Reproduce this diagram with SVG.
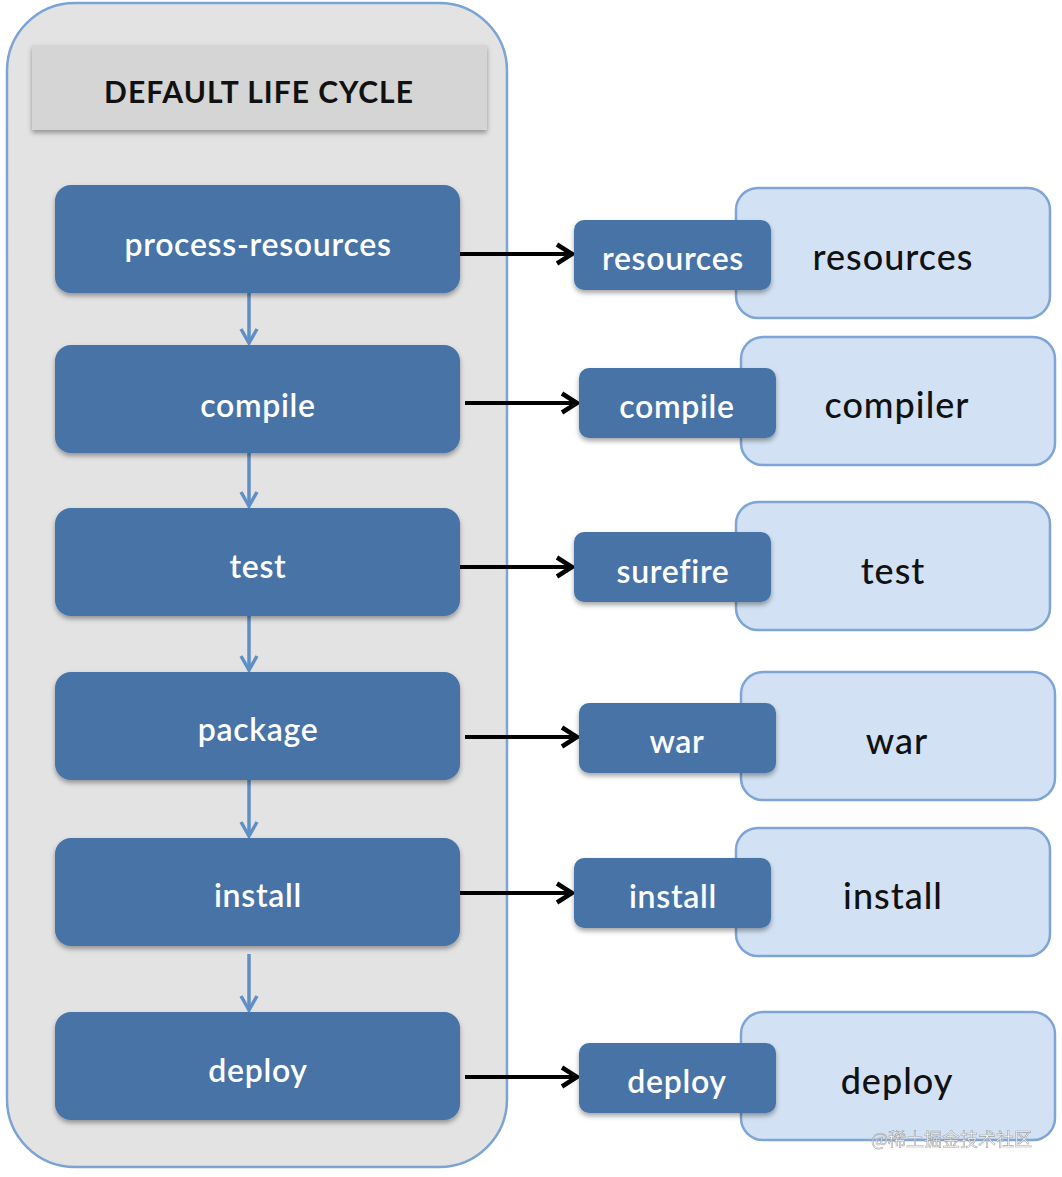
<svg xmlns="http://www.w3.org/2000/svg" width="1062" height="1177" viewBox="0 0 1062 1177">
<defs>
<style>
.phase{fill:#4673a7;}
.goal{fill:#4673a7;}
.plugin{fill:#d2e2f4;stroke:#7ea5d6;stroke-width:2.5;}
.wt{fill:#ffffff;font-family:Lato,"Open Sans",sans-serif;font-size:32px;font-weight:600;letter-spacing:0.7px;text-anchor:middle;dominant-baseline:central;}
.bt{fill:#111111;font-family:Lato,"Open Sans",sans-serif;font-size:36px;font-weight:500;letter-spacing:1px;text-anchor:middle;dominant-baseline:central;}
.down{stroke:#5f8fc6;stroke-width:3.5;fill:none;}
.right{stroke:#000000;stroke-width:4;fill:none;}
</style>
<filter id="sh" x="-10%" y="-10%" width="120%" height="130%">
<feDropShadow dx="0" dy="3" stdDeviation="2.5" flood-color="#000000" flood-opacity="0.35"/>
</filter>
<marker id="ad" viewBox="0 0 18 20" refX="16" refY="10" markerWidth="18" markerHeight="20" markerUnits="userSpaceOnUse" orient="auto">
<path d="M2,2 L16,10 L2,18" fill="none" stroke="#5f8fc6" stroke-width="3.5"/>
</marker>
<marker id="ar" viewBox="0 0 20 24" refX="17" refY="12" markerWidth="20" markerHeight="24" markerUnits="userSpaceOnUse" orient="auto">
<path d="M2,2.5 L17,12 L2,21.5" fill="none" stroke="#000000" stroke-width="4.5"/>
</marker>
</defs>
<rect width="1062" height="1177" fill="#ffffff"/>

<g id="lifecycle">
<rect x="7" y="3" width="500" height="1164" rx="68" fill="#e3e3e3" stroke="#7ba3d3" stroke-width="2.5"/>
<rect x="32" y="45" width="455" height="85" fill="#d5d5d5" filter="url(#sh)"/>
<text x="259" y="91" font-family="Lato,'Open Sans',sans-serif" font-size="30" font-weight="bold" letter-spacing="1" fill="#111111" text-anchor="middle" dominant-baseline="central">DEFAULT LIFE CYCLE</text>
</g>

<g id="connectors">
<line class="down" x1="249" y1="293" x2="249" y2="343" marker-end="url(#ad)"/>
<line class="down" x1="249" y1="453" x2="249" y2="506" marker-end="url(#ad)"/>
<line class="down" x1="249" y1="616" x2="249" y2="670" marker-end="url(#ad)"/>
<line class="down" x1="249" y1="780" x2="249" y2="836" marker-end="url(#ad)"/>
<line class="down" x1="249" y1="954" x2="249" y2="1010" marker-end="url(#ad)"/>
<line class="right" x1="460" y1="254" x2="572" y2="254" marker-end="url(#ar)"/>
<line class="right" x1="465" y1="403" x2="577" y2="403" marker-end="url(#ar)"/>
<line class="right" x1="460" y1="567" x2="572" y2="567" marker-end="url(#ar)"/>
<line class="right" x1="465" y1="737" x2="577" y2="737" marker-end="url(#ar)"/>
<line class="right" x1="460" y1="893" x2="572" y2="893" marker-end="url(#ar)"/>
<line class="right" x1="465" y1="1077" x2="577" y2="1077" marker-end="url(#ar)"/>
</g>

<g id="phase-process-resources"><rect class="phase" x="55" y="185" width="405" height="108" rx="16" filter="url(#sh)"/><text class="wt" x="258" y="243">process-resources</text></g>
<g id="phase-compile"><rect class="phase" x="55" y="345" width="405" height="108" rx="16" filter="url(#sh)"/><text class="wt" x="258" y="404">compile</text></g>
<g id="phase-test"><rect class="phase" x="55" y="508" width="405" height="108" rx="16" filter="url(#sh)"/><text class="wt" x="258" y="565">test</text></g>
<g id="phase-package"><rect class="phase" x="55" y="672" width="405" height="108" rx="16" filter="url(#sh)"/><text class="wt" x="258" y="728">package</text></g>
<g id="phase-install"><rect class="phase" x="55" y="838" width="405" height="108" rx="16" filter="url(#sh)"/><text class="wt" x="258" y="894">install</text></g>
<g id="phase-deploy"><rect class="phase" x="55" y="1012" width="405" height="108" rx="16" filter="url(#sh)"/><text class="wt" x="258" y="1069">deploy</text></g>

<g id="plugin-resources"><rect class="plugin" x="736" y="188" width="314" height="130" rx="22"/><text class="bt" x="893" y="256">resources</text></g>
<g id="plugin-compiler"><rect class="plugin" x="741" y="337" width="314" height="128" rx="22"/><text class="bt" x="897" y="404">compiler</text></g>
<g id="plugin-test"><rect class="plugin" x="736" y="502" width="314" height="128" rx="22"/><text class="bt" x="893" y="570">test</text></g>
<g id="plugin-war"><rect class="plugin" x="741" y="672" width="314" height="128" rx="22"/><text class="bt" x="897" y="740">war</text></g>
<g id="plugin-install"><rect class="plugin" x="736" y="828" width="314" height="128" rx="22"/><text class="bt" x="893" y="895">install</text></g>
<g id="plugin-deploy"><rect class="plugin" x="741" y="1012" width="314" height="128" rx="22"/><text class="bt" x="897" y="1080">deploy</text></g>

<g id="goal-resources"><rect class="goal" x="574" y="220" width="197" height="70" rx="10" filter="url(#sh)"/><text class="wt" x="673" y="257">resources</text></g>
<g id="goal-compile"><rect class="goal" x="579" y="368" width="197" height="70" rx="10" filter="url(#sh)"/><text class="wt" x="677" y="405">compile</text></g>
<g id="goal-surefire"><rect class="goal" x="574" y="532" width="197" height="70" rx="10" filter="url(#sh)"/><text class="wt" x="673" y="570">surefire</text></g>
<g id="goal-war"><rect class="goal" x="579" y="703" width="197" height="70" rx="10" filter="url(#sh)"/><text class="wt" x="677" y="740">war</text></g>
<g id="goal-install"><rect class="goal" x="574" y="858" width="197" height="70" rx="10" filter="url(#sh)"/><text class="wt" x="673" y="895">install</text></g>
<g id="goal-deploy"><rect class="goal" x="579" y="1043" width="197" height="70" rx="10" filter="url(#sh)"/><text class="wt" x="677" y="1080">deploy</text></g>

<text x="1032" y="1138" font-family="'Noto Sans CJK SC',sans-serif" font-size="18" fill="#ffffff" stroke="#9a9a9a" stroke-width="0.6" text-anchor="end" dominant-baseline="central" opacity="0.9">@稀土掘金技术社区</text>
</svg>
